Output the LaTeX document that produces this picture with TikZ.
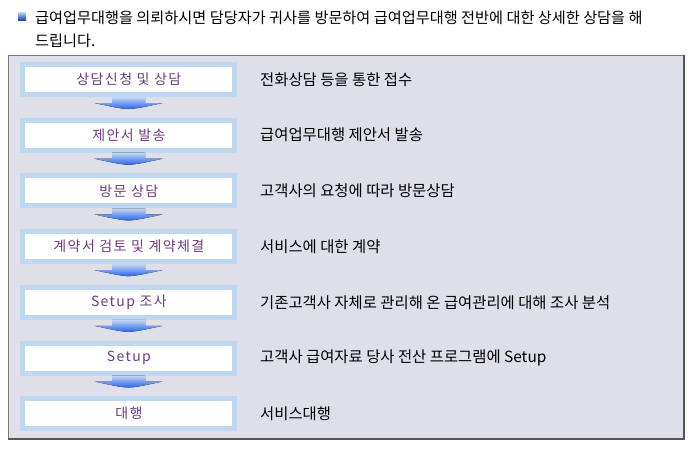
\documentclass[tikz,border=0pt]{standalone}
\usepackage{fontspec}
\setmainfont{Noto Sans CJK KR}
\newfontfamily\stepfont[LetterSpace=10]{Noto Sans CJK KR}
\usetikzlibrary{positioning}
\definecolor{panelbg}{RGB}{223,223,234}
\definecolor{panelline}{RGB}{120,120,120}
\definecolor{frameblue}{RGB}{192,215,240}
\definecolor{steptext}{RGB}{110,60,130}
\definecolor{arrowtop}{RGB}{195,215,246}
\definecolor{arrowbot}{RGB}{40,100,232}
\tikzset{
	panel/.append style={
		draw=panelline,
		fill=panelbg,
		line width=1.2pt,
		minimum width=675pt,
		minimum height=383pt,
		anchor=north west,
		inner sep=0pt,
	},
	stepbox/.append style={
		draw=frameblue,
		line width=5pt,
		fill=white,
		minimum width=212pt,
		minimum height=30pt,
		inner sep=0pt,
		text=steptext,
		font={\stepfont\fontsize{14}{16}\selectfont}
	},
	desc/.append style={
		anchor=west,
		inner sep=0pt,
		font={\fontsize{15.4}{18}\selectfont}
	},
	headline/.append style={
		anchor=base west,
		inner sep=0pt,
		font={\fontsize{15.2}{18}\selectfont}
	},
	flow/.append style={
		shading=axis,
		top color=arrowtop,
		bottom color=arrowbot,
	},
}

\begin{document}
\begin{tikzpicture}[x=1pt, y=1pt]
\useasboundingbox (0,0) rectangle (690,-448);

% heading
\node(bullet)[minimum size=8pt, inner sep=0pt, shading=axis, top color=arrowtop, bottom color=arrowbot!70!black] at (22,-16) {};
\node(title)[headline] at (35,-23) {급여업무대행을 의뢰하시면 담당자가 귀사를 방문하여 급여업무대행 전반에 대한 상세한 상담을 해};
\node(titlecont)[headline] at (35,-46) {드립니다.};

\node(panel)[panel] at (8,-55) {};
\draw[panelline!70!black, line width=2pt] (panel.north east) -- (panel.south east) -- (panel.south west);

\foreach \lbl/\txt [count=\ii] in {
	상담신청 및 상담/전화상담 등을 통한 접수,
	제안서 발송/급여업무대행 제안서 발송,
	방문 상담/고객사의 요청에 따라 방문상담,
	계약서 검토 및 계약체결/서비스에 대한 계약,
	Setup 조사/기존고객사 자체로 관리해 온 급여관리에 대해 조사 분석,
	Setup/고객사 급여자료 당사 전산 프로그램에 Setup,
	대행/서비스대행} {
	\pgfmathsetmacro\pos{-79.5 - (\ii - 1) * 55.7};
	\node(s\ii)[stepbox] at (128.5,\pos) {\hspace{0.7pt}\lbl};
	\node(d\ii)[desc] at (260,\pos) {\txt};
};

\foreach \ii in {1,...,6} {
	\begin{scope}[shift={(s\ii.south)}]
		\fill[flow] (-16.5,0) -- (16.5,0) -- (16.5,-6) -- (34,-6)
			.. controls (16,-10) and (6,-12) .. (0,-12)
			.. controls (-6,-12) and (-16,-10) .. (-34,-6)
			-- (-16.5,-6) -- cycle;
	\end{scope}
};
\end{tikzpicture}
\end{document}
